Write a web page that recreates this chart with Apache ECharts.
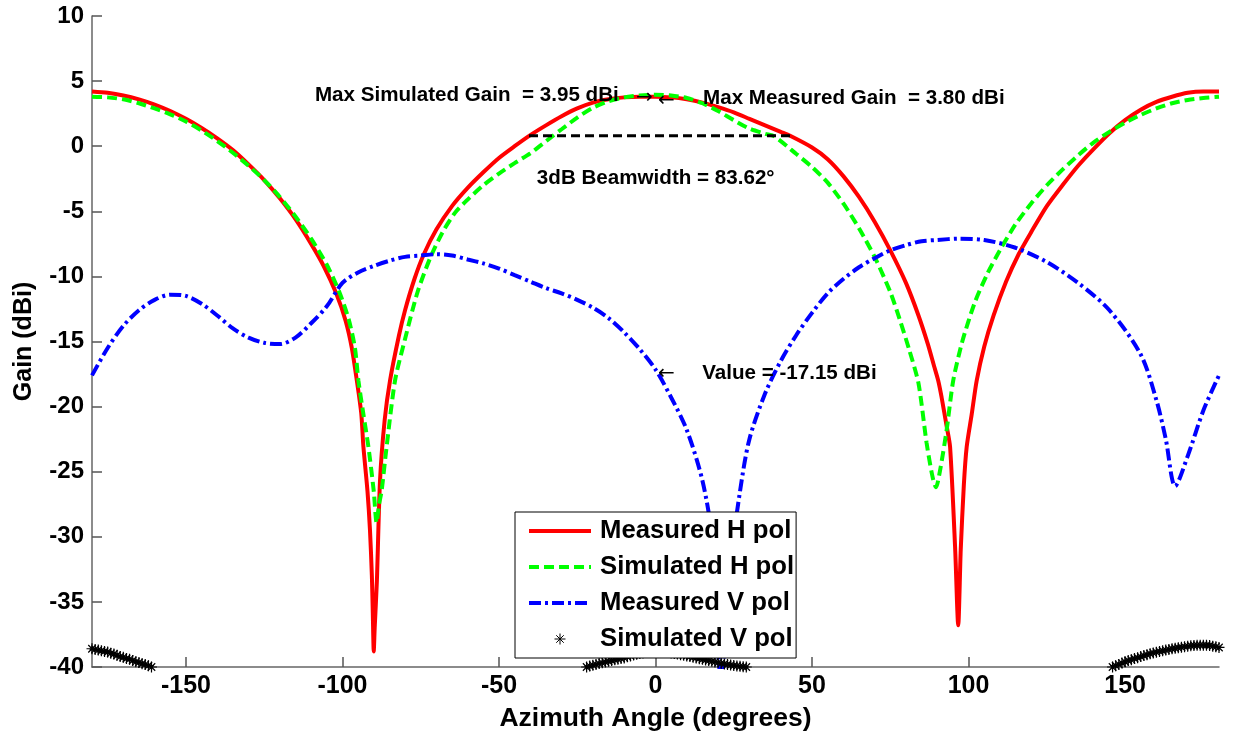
<!DOCTYPE html>
<html>
<head>
<meta charset="utf-8">
<script src="https://cdn.jsdelivr.net/npm/echarts@6/dist/echarts.min.js"></script>
<style>
html,body{margin:0;padding:0;background:#fff;}
#c{width:1233px;height:737px;}
</style>
</head>
<body>
<div id="c"></div>
<script>
// ---- data (angle in degrees, gain in dBi) ----
const measHAngle = [-180,-175,-170,-165,-160,-155,-150,-145,-140,-135,-130,-125,-120,-115,-110,-106,-102,-99,-97,-95.4,-94,-93.3,-92,-91.2,-90.6,-90.3,-90.0,-89.7,-89.0,-88.0,-86.5,-84.8,-82,-80,-77,-74,-70,-65,-60,-55,-50,-45,-40,-35,-30,-25,-20,-15,-10,-5,0,5,10,15,20,25,30,35,40,43,50,55,60,65,70,75,80,84,87,89,90.3,91.4,93,94.1,95.7,96.7,97.5,98.5,99.4,101,102.6,105,108,112,116,120,125,130,135,140,145,150,155,160,165,170,175,180];
const measHGain  = [4.2,4.1,3.9,3.6,3.2,2.7,2.1,1.4,0.6,-0.3,-1.4,-2.6,-4.0,-5.6,-7.5,-9.2,-11.3,-13.4,-15.5,-18,-20.5,-23.1,-26.5,-29.5,-33,-35.9,-38.8,-37,-33.4,-25.7,-21,-18,-14.6,-12.6,-10.2,-8.3,-6.4,-4.6,-3.2,-2.0,-0.9,0.0,0.85,1.6,2.3,2.9,3.35,3.6,3.75,3.8,3.8,3.75,3.6,3.35,3.0,2.6,2.1,1.6,1.1,0.8,-0.1,-1.0,-2.3,-3.9,-5.8,-8.0,-10.5,-13.0,-15.2,-16.9,-18,-19.3,-21.5,-23.1,-30.8,-36.8,-31,-26,-23.1,-20.6,-18,-15.4,-13,-10.4,-8.3,-6.6,-4.6,-3.0,-1.5,-0.2,1.0,2.0,2.8,3.4,3.8,4.1,4.2,4.2];

const simHAngle = [-180,-175,-170,-165,-160,-155,-150,-145,-140,-135,-130,-125,-120,-115,-110,-105,-101,-98,-96,-94.9,-93.3,-91.7,-90,-89.1,-88.3,-87.5,-85.9,-83.2,-80,-76,-72,-68,-64,-60,-55,-50,-45,-40,-37,-33,-30,-25,-20,-15,-10,-5,0,5,10,15,20,25,30,35,38,45,50,55,60,65,70,75,78,81,84,86.6,88.5,89.6,90.9,93,95.1,98,102,106,110,115,120,125,130,135,140,145,150,155,160,165,170,175,180];
const simHGain  = [3.8,3.75,3.6,3.3,2.9,2.45,1.9,1.2,0.4,-0.5,-1.5,-2.6,-3.9,-5.4,-7.1,-9.1,-11.2,-13.3,-15.5,-18,-20.6,-23.1,-26.5,-28.9,-27.5,-26.5,-23.1,-18,-14.8,-11.2,-8.6,-6.6,-5.1,-4.1,-3.0,-2.1,-1.3,-0.55,0.0,0.75,1.3,2.2,2.95,3.45,3.75,3.9,3.95,3.9,3.7,3.3,2.7,2.0,1.35,0.95,0.75,-0.6,-1.6,-2.8,-4.4,-6.3,-8.5,-11.2,-13.3,-15.6,-18.2,-22.8,-25.4,-26.2,-24.9,-21.8,-18,-15,-12,-9.8,-8.0,-6.0,-4.4,-3.0,-1.8,-0.7,0.3,1.1,1.8,2.4,2.9,3.3,3.55,3.7,3.8];

const measVAngle = [-180,-175,-170,-165,-160,-155,-150,-145,-140,-135,-130,-125,-120,-115,-110,-105,-100,-95,-90,-85,-80,-75,-70,-65,-60,-55,-50,-45,-40,-35,-30,-25,-20,-15,-10,-5,0,5,10,15,18,21,24,27,30,35,40,45,50,55,60,65,70,75,80,85,90,97,105,115,125,135,145,155,160,163,166,170,175,180];
const measVGain  = [-17.6,-15.5,-13.8,-12.6,-11.8,-11.4,-11.5,-12.1,-13.0,-14.0,-14.7,-15.1,-15.2,-14.7,-13.6,-12.3,-10.5,-9.7,-9.2,-8.8,-8.5,-8.4,-8.3,-8.4,-8.7,-9.0,-9.4,-9.9,-10.4,-10.9,-11.3,-11.8,-12.4,-13.2,-14.3,-15.6,-17.15,-19.3,-21.8,-25.7,-30,-41,-32,-26.5,-22.5,-19,-16.5,-14.5,-12.8,-11.3,-10.2,-9.3,-8.6,-8.0,-7.6,-7.3,-7.2,-7.1,-7.2,-7.8,-8.9,-10.5,-12.6,-16.0,-19.5,-22.5,-26.1,-23.8,-20.3,-17.6];

const simVAngleL = [-180,-179,-178,-177,-176,-175,-174,-173,-172,-171,-170,-169,-168,-167,-166,-165,-164,-163,-162,-161];
const simVGainL  = [-38.6,-38.65,-38.7,-38.75,-38.8,-38.85,-38.95,-39.0,-39.1,-39.2,-39.25,-39.35,-39.4,-39.5,-39.6,-39.65,-39.75,-39.8,-39.9,-40.0];
const simVAngleC = [-22,-21,-20,-19,-18,-17,-16,-15,-14,-13,-12,-11,-10,-9,-8,-7,-6,-5,-4,-3,-2,-1,0,1,2,3,4,5,6,7,8,9,10,11,12,13,14,15,16,17,18,19,20,21,22,23,24,25,26,27,28,29];
const simVGainC  = [-40.0,-39.93,-39.86,-39.8,-39.74,-39.68,-39.62,-39.56,-39.5,-39.45,-39.4,-39.35,-39.3,-39.22,-39.15,-39.08,-39.02,-38.97,-38.92,-38.88,-38.85,-38.83,-38.82,-38.82,-38.83,-38.85,-38.88,-38.92,-38.96,-39.0,-39.05,-39.1,-39.15,-39.2,-39.25,-39.3,-39.36,-39.41,-39.46,-39.51,-39.56,-39.61,-39.66,-39.71,-39.76,-39.81,-39.85,-39.89,-39.92,-39.95,-39.98,-40.0];
const simVAngleR = [146,147,148,149,150,151,152,153,154,155,156,157,158,159,160,161,162,163,164,165,166,167,168,169,170,171,172,173,174,175,176,177,178,179,180];
const simVGainR  = [-40.0,-39.9,-39.8,-39.7,-39.6,-39.5,-39.45,-39.35,-39.28,-39.2,-39.12,-39.05,-38.98,-38.92,-38.86,-38.8,-38.75,-38.7,-38.65,-38.6,-38.56,-38.52,-38.48,-38.44,-38.4,-38.37,-38.35,-38.33,-38.32,-38.32,-38.33,-38.35,-38.4,-38.45,-38.5];

const beamStart = -40.4, beamEnd = 43.2, beamLevel = 0.8;

const annotTexts = ['Max Simulated Gain  = 3.95 dBi','\u2192','\u2190','Max Measured Gain  = 3.80 dBi','3dB Beamwidth = 83.62\u00B0','\u2190','Value = -17.15 dBi'];
const annotX = [-108.8,-6.2,0.8,15.2,-37.9,0.8,14.9];
const annotY = [3.92,3.75,3.45,3.7,-2.45,-17.45,-17.45];

const xTicks = [-150,-100,-50,0,50,100,150];
const seriesNames = ['Measured H pol','Simulated H pol','Measured V pol','Simulated V pol'];

// ---- build ----
const zip = (a,b) => a.map((v,i)=>[v,b[i]]);
const simV = zip(simVAngleL,simVGainL).concat(zip(simVAngleC,simVGainC),zip(simVAngleR,simVGainR));
const starPath = 'path://M5,0L5,10M0,5L10,5M1.6,1.6L8.4,8.4M1.6,8.4L8.4,1.6';
const FONT = 'Liberation Sans, Arial, Helvetica, sans-serif';
const ARROWFONT = 'DejaVu Sans, sans-serif';

const chart = echarts.init(document.getElementById('c'), null, {renderer:'canvas'});
chart.setOption({
  animation:false,
  backgroundColor:'#fff',
  grid:{left:92,right:14,top:16,bottom:69,containLabel:false},
  xAxis:{
    type:'value',min:-180,max:180,
    name:'Azimuth Angle (degrees)',nameLocation:'middle',nameGap:38,
    nameTextStyle:{fontFamily:FONT,fontWeight:'bold',fontSize:26.5,color:'#000'},
    axisLine:{show:true,onZero:false,lineStyle:{color:'#666',width:1.5}},
    axisTick:{show:true,inside:true,length:10,customValues:xTicks,lineStyle:{color:'#555',width:1.5}},
    axisLabel:{customValues:xTicks,fontFamily:FONT,fontWeight:'bold',fontSize:25,color:'#000',margin:7},
    splitLine:{show:false}
  },
  yAxis:{
    type:'value',min:-40,max:10,interval:5,
    name:'Gain (dBi)',nameLocation:'middle',nameGap:55,nameRotate:90,
    nameTextStyle:{fontFamily:FONT,fontWeight:'bold',fontSize:25,color:'#000'},
    axisLine:{show:true,onZero:false,lineStyle:{color:'#666',width:1.5}},
    axisTick:{show:true,inside:true,length:10,lineStyle:{color:'#555',width:1.5}},
    axisLabel:{fontFamily:FONT,fontWeight:'bold',fontSize:24,color:'#000',margin:8},
    splitLine:{show:false}
  },
  legend:{
    orient:'vertical',left:515,top:512,
    data:[
      {name:seriesNames[0],itemStyle:{opacity:0}},
      {name:seriesNames[1],itemStyle:{opacity:0}},
      {name:seriesNames[2],itemStyle:{opacity:0}},
      {name:seriesNames[3],itemStyle:{color:'#000',borderColor:'#000',borderWidth:1,opacity:1}}
    ],
    backgroundColor:'#fff',borderColor:'#000',borderWidth:1,borderRadius:0,
    padding:[5,2,5,12],itemGap:8,itemWidth:62,itemHeight:11,
    lineStyle:{width:4},
    textStyle:{fontFamily:FONT,fontWeight:'bold',fontSize:25.7,color:'#000',lineHeight:28,padding:[0,0,0,4]},
    selectedMode:false,z:20
  },
  series:[
    {name:seriesNames[0],type:'line',data:zip(measHAngle,measHGain),symbol:'none',smooth:0.25,
     lineStyle:{color:'#ff0000',width:4},itemStyle:{color:'#ff0000'},z:2},
    {name:seriesNames[1],type:'line',data:zip(simHAngle,simHGain),symbol:'none',smooth:0.25,
     lineStyle:{color:'#00ff00',width:4,type:[10,5]},itemStyle:{color:'#00ff00'},z:3},
    {name:seriesNames[2],type:'line',data:zip(measVAngle,measVGain),symbol:'none',smooth:0.3,
     lineStyle:{color:'#0000ff',width:4,type:[12,4,3,4]},itemStyle:{color:'#0000ff'},z:4},
    {name:seriesNames[3],type:'scatter',data:simV,symbol:starPath,symbolSize:11,
     itemStyle:{color:'#000',borderColor:'#000',borderWidth:1.2,opacity:1},z:5},
    {name:'beam',type:'line',data:[[beamStart,beamLevel],[beamEnd,beamLevel]],symbol:'none',
     lineStyle:{color:'#000',width:3,type:[9,5]},z:6,silent:true},
    {name:'annot',type:'scatter',symbolSize:0,silent:true,z:7,itemStyle:{opacity:1},
     data:annotTexts.map((t,i)=>({value:[annotX[i],annotY[i]],name:t,
        label:(t.length===1?{fontFamily:ARROWFONT,fontWeight:'normal',fontSize:20}:{})})),
     label:{show:true,position:'right',distance:0,formatter:'{b}',opacity:1,
        fontFamily:FONT,fontWeight:'bold',fontSize:20.6,color:'#000'}}
  ]
});
</script>
</body>
</html>
